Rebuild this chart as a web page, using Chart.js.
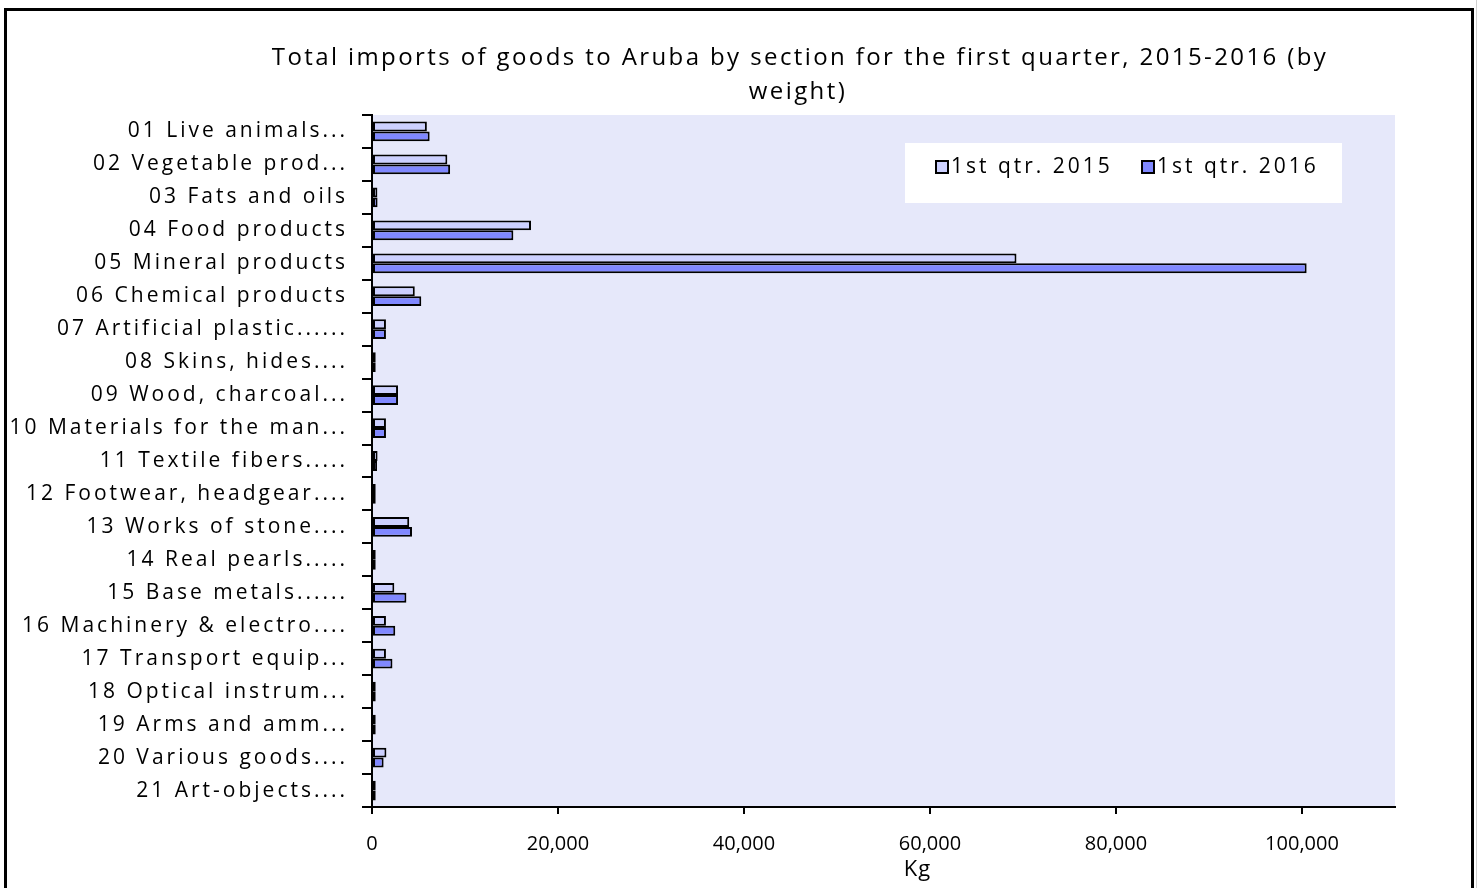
<!DOCTYPE html>
<html>
<head>
<meta charset="utf-8">
<script src="https://cdn.jsdelivr.net/npm/chart.js@4"></script>
<style>
  body { margin: 0; background: #fff; overflow: hidden; }
  #frame { position: absolute; left: 4px; top: 8px; width: 1464px; height: 900px; border: 3px solid #000; }
  #edge { position: absolute; left: 1476px; top: 0; width: 1px; height: 888px; background: #d0d0d0; }
  #chart { position: absolute; left: 0; top: 0; }
</style>
</head>
<body>
<div id="frame"></div>
<div id="edge"></div>
<canvas id="chart" width="1482" height="888"></canvas>
<script>
const categories = [
  '01 Live animals...', '02 Vegetable prod...', '03 Fats and oils', '04 Food products',
  '05 Mineral products', '06 Chemical products', '07 Artificial plastic......', '08 Skins, hides....',
  '09 Wood, charcoal...', '10 Materials for the man...', '11 Textile fibers.....', '12 Footwear, headgear....',
  '13 Works of stone....', '14 Real pearls.....', '15 Base metals......', '16 Machinery & electro....',
  '17 Transport equip...', '18 Optical instrum...', '19 Arms and amm...', '20 Various goods....',
  '21 Art-objects....'
];
const q1_2015 = [5900, 8100, 580, 17100, 69300, 4600, 1500, 400, 2800, 1500, 600, 400, 4000, 400, 2400, 1500, 1500, 400, 400, 1550, 400];
const q1_2016 = [6200, 8400, 600, 15200, 100500, 5300, 1500, 400, 2800, 1500, 550, 400, 4300, 400, 3700, 2500, 2200, 400, 400, 1250, 400];
const seriesNames = ['1st qtr. 2015', '1st qtr. 2016'];
const xTicks = [0, 20000, 40000, 60000, 80000, 100000];
const titleLines = ['Total imports of goods to Aruba by section for the first quarter, 2015-2016 (by', 'weight)'];

const FONT = "'Open Sans', 'DejaVu Sans', sans-serif";

// the category labels in the original are widely spaced
const spacedLabels = {
  id: 'spacedLabels',
  afterLayout(chart) {
    const y = chart.scales.y;
    if (y._spaced) return;
    const orig = y.drawLabels;
    y.drawLabels = function (area) {
      chart.ctx.save();
      chart.ctx.letterSpacing = '3px';
      orig.call(this, area);
      chart.ctx.restore();
    };
    y._spaced = true;
  }
};

// plot background, title, legend box and the "Kg" axis title
const decorations = {
  id: 'decorations',
  beforeDraw(chart) {
    const { ctx, chartArea: a } = chart;
    ctx.save();
    ctx.fillStyle = '#E6E8FA';
    ctx.fillRect(a.left, a.top, a.right - a.left, a.bottom - a.top);
    ctx.restore();
  },
  afterDraw(chart) {
    const { ctx, chartArea: a } = chart;
    ctx.save();
    ctx.fillStyle = '#000';
    ctx.textBaseline = 'middle';
    ctx.textAlign = 'center';
    ctx.font = '24px ' + FONT;
    ctx.letterSpacing = '2.4px';
    ctx.fillText(titleLines[0], 800, 58);
    ctx.fillText(titleLines[1], 798, 92);

    ctx.fillStyle = '#fff';
    ctx.fillRect(905, 143, 437, 60);
    ctx.font = '21px ' + FONT;
    ctx.textAlign = 'left';
    ctx.letterSpacing = '3px';
    const starts = [936, 1142];
    chart.data.datasets.forEach((ds, i) => {
      ctx.fillStyle = ds.backgroundColor;
      ctx.fillRect(starts[i], 161, 12, 12);
      ctx.strokeStyle = '#000';
      ctx.lineWidth = 2;
      ctx.strokeRect(starts[i], 161, 12, 12);
      ctx.fillStyle = '#000';
      ctx.fillText(ds.label, starts[i] + 15, 167);
    });

    ctx.letterSpacing = '1px';
    ctx.font = '22px ' + FONT;
    ctx.textAlign = 'center';
    ctx.fillText('Kg', (a.left + a.right) / 2 + 34, 870);
    ctx.restore();
  }
};

new Chart(document.getElementById('chart'), {
  type: 'bar',
  data: {
    labels: categories,
    datasets: [
      { label: seriesNames[0], data: q1_2015, backgroundColor: '#CCD0FF', borderColor: '#000', borderWidth: 2, borderSkipped: false },
      { label: seriesNames[1], data: q1_2016, backgroundColor: '#8088FF', borderColor: '#000', borderWidth: 2, borderSkipped: false }
    ]
  },
  options: {
    indexAxis: 'y',
    responsive: false,
    animation: false,
    datasets: { bar: { categoryPercentage: 0.6, barPercentage: 1.0 } },
    layout: { padding: { left: 0, right: 87, top: 115, bottom: 0 } },
    scales: {
      x: {
        min: 0,
        max: 110000,
        afterBuildTicks: scale => { scale.ticks = xTicks.map(v => ({ value: v })); },
        afterFit: scale => { scale.height = 81; },
        grid: { drawOnChartArea: false, drawTicks: true, tickLength: 7, color: '#000', lineWidth: 2 },
        border: { display: true, color: '#000', width: 2 },
        ticks: {
          color: '#000',
          padding: 18,
          font: { family: FONT, size: 20 },
          callback: v => v.toLocaleString('en-US')
        }
      },
      y: {
        afterFit: scale => { scale.width = 372; },
        grid: { drawOnChartArea: false, drawTicks: true, tickLength: 10, color: '#000', lineWidth: 2, offset: true },
        border: { display: true, color: '#000', width: 2 },
        ticks: { color: '#000', padding: 14, autoSkip: false, font: { family: FONT, size: 21 } }
      }
    },
    plugins: {
      legend: { display: false },
      tooltip: { enabled: false },
      title: { display: false }
    }
  },
  plugins: [spacedLabels, decorations]
});
</script>
</body>
</html>
